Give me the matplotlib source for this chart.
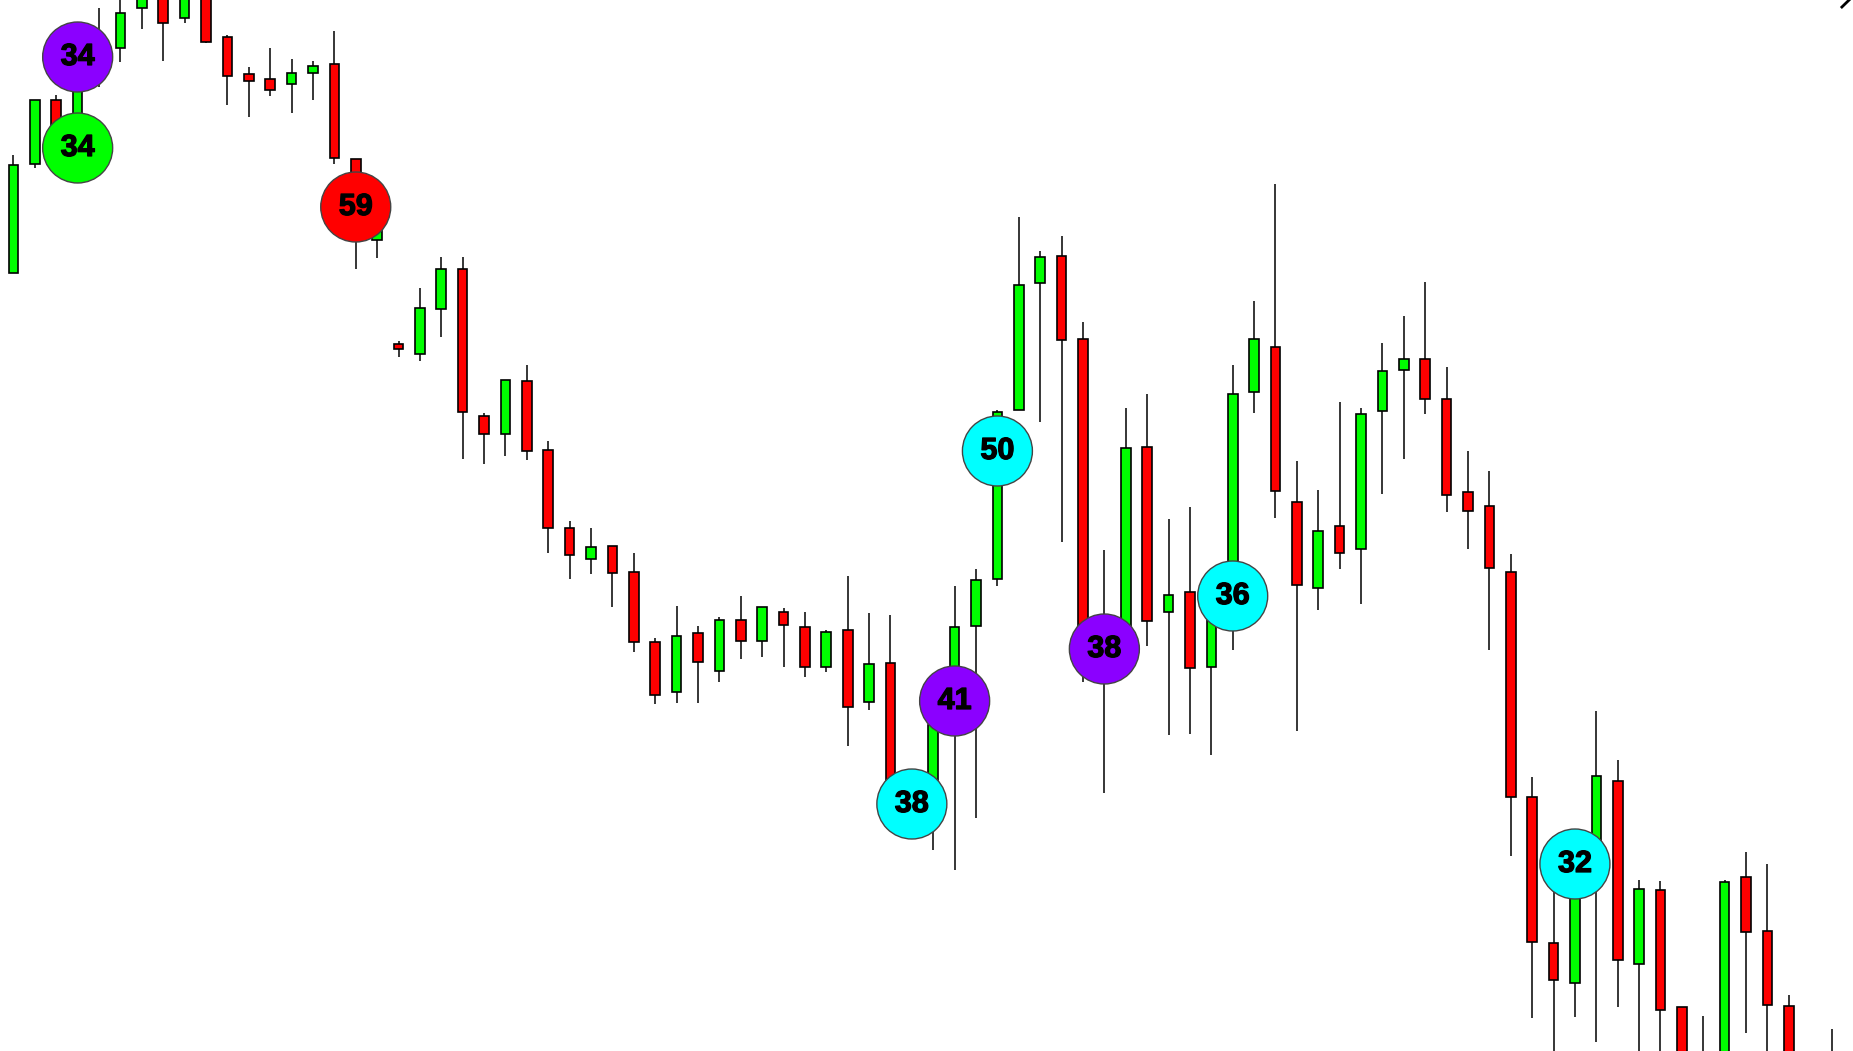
import numpy as np
import pandas as pd
import matplotlib
matplotlib.use("Agg")
import matplotlib.pyplot as plt
import matplotlib.patheffects as pe

plt.rcParams['font.family'] = ['Liberation Sans', 'DejaVu Sans']

# --- candle data (price points) ---
opens = [778, 887, 951, 921, 973, 1003, 1043, 1071, 1033, 1056,
         1014, 977, 972, 967, 978, 987, 892, 811, 707, 697,
         742, 782, 635, 617, 670, 601, 523, 492, 505, 479,
         409, 359, 418, 380, 431, 410, 439, 424, 384, 421,
         349, 388, 261, 271, 361, 425, 472, 641, 768, 795,
         712, 405, 411, 604, 439, 459, 384, 461, 659, 704,
         549, 463, 525, 502, 640, 681, 692, 652, 559, 545,
         479, 254, 108, 68, 201, 270, 87, 161, 44, -59,
         -39, 174, 120, 45, -19, -39]
closes = [886, 951, 911, 981, 1006, 1038, 1066, 1028, 1061, 1009,
          975, 970, 961, 978, 985, 893, 851, 823, 702, 743,
          782, 639, 617, 671, 600, 523, 496, 504, 478, 409,
          356, 415, 389, 431, 410, 444, 426, 384, 419, 344,
          387, 261, 246, 326, 424, 471, 639, 766, 794, 711,
          411, 395, 603, 430, 456, 383, 451, 657, 712, 560,
          466, 520, 498, 637, 680, 692, 652, 556, 540, 483,
          254, 109, 71, 181, 275, 91, 162, 41, -49, -14,
          169, 119, 46, -29, -49, -9]
highs = [896, 951, 956, 996, 1043, 1060, 1081, 1086, 1071, 1066,
         1016, 984, 1003, 992, 990, 1020, 892, 829, 710, 763,
         794, 794, 638, 671, 686, 610, 530, 523, 505, 498,
         413, 445, 425, 434, 455, 444, 443, 439, 421, 475,
         438, 436, 276, 331, 465, 482, 641, 834, 800, 815,
         729, 501, 643, 657, 532, 544, 456, 686, 750, 867,
         590, 561, 649, 643, 708, 735, 769, 684, 600, 580,
         497, 274, 181, 201, 340, 291, 171, 170, 44, 35,
         171, 199, 187, 56, -14, 22]
lows = [778, 883, 905, 906, 964, 989, 1022, 990, 1028, 1008,
        946, 934, 955, 938, 951, 887, 782, 793, 694, 690,
        714, 592, 587, 595, 591, 498, 472, 477, 444, 399,
        347, 348, 348, 369, 392, 394, 384, 374, 379, 305,
        341, 251, 226, 201, 181, 233, 465, 641, 629, 509,
        369, 258, 391, 405, 316, 317, 296, 401, 638, 533,
        320, 441, 482, 447, 557, 592, 637, 539, 502, 401,
        195, 33, -19, 34, 9, 44, -29, -39, -69, -74,
        -59, 18, -9, -44, -60, -50]

# --- signal circles: candle index, price, label, colour ---
sig_idx = [3, 3, 16, 42, 44, 46, 51, 57, 73]
sig_price = [994, 903, 844, 247, 350, 600, 402, 455, 187]
sig_label = ['34', '34', '59', '38', '41', '50', '38', '36', '32']
sig_color = ['#8B00FF', '#00FF00', '#FF0000', '#00FFFF', '#8B00FF',
             '#00FFFF', '#8B00FF', '#00FFFF', '#00FFFF']

df = pd.DataFrame({'Open': opens, 'High': highs, 'Low': lows, 'Close': closes})
x = np.arange(len(df))
up = df['Close'] >= df['Open']
body_col = np.where(up, '#00FF00', '#FF0000')

fig = plt.figure(figsize=(18.53, 10.51), dpi=100)
ax = fig.add_axes([0, 0, 1, 1])

# wicks
ax.vlines(x, df['Low'], df['High'], color='black', linewidth=1.1, zorder=1)
# bodies
bot = np.minimum(df['Open'], df['Close'])
hgt = (df['Close'] - df['Open']).abs()
ax.bar(x, hgt, bottom=bot, width=0.45, color=body_col,
       edgecolor='black', linewidth=1.2, zorder=2)

# circles with counts
ax.scatter(sig_idx, sig_price, s=2540, c=sig_color, edgecolors='#444444',
           linewidths=1.0, zorder=3)
for i, p, t in zip(sig_idx, sig_price, sig_label):
    ax.text(i, p, t, ha='center', va='center', fontsize=22,
            fontweight='bold', color='black', zorder=4,
            path_effects=[pe.withStroke(linewidth=0.9, foreground='black')])

# little stroke in the top right corner
ax.plot([0.9940, 0.9979], [0.9933, 1.0], color='black', linewidth=2,
        transform=ax.transAxes, clip_on=False)

ax.set_xlim(-0.631, 86.0)
ax.set_ylim(0, 1051)
ax.axis('off')

fig.savefig('out.png', dpi=100, facecolor='white')
